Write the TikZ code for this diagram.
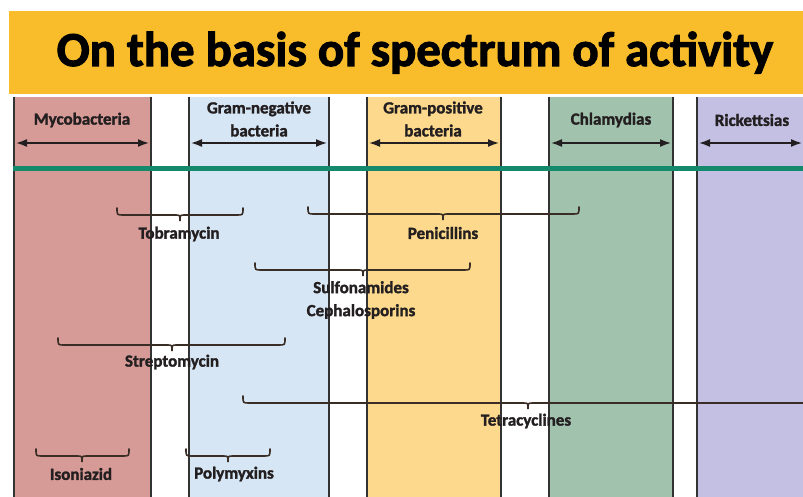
\documentclass[tikz,border=0pt]{standalone}
\usepackage{fontspec}
\setmainfont{Carlito}
\newfontfamily\heavyfont{Carlito Bold}[FakeBold=1.6]
\newfontfamily\titlefont{Carlito Bold}[FakeBold=2.2]
\usetikzlibrary{arrows.meta}
\definecolor{banner}{HTML}{F9BD2B}
\definecolor{mycoc}{HTML}{D79B97}
\definecolor{gnegc}{HTML}{D6E6F4}
\definecolor{gposc}{HTML}{FCD98C}
\definecolor{chlac}{HTML}{A1C3AE}
\definecolor{rickc}{HTML}{C3C0E4}
\definecolor{greenline}{HTML}{14896B}
\definecolor{inkc}{HTML}{231F20}
\definecolor{borderc}{HTML}{333333}
\newcommand\mybrace[4]{%
  \draw[bracestyle] (#1,#4-7) .. controls (#1,#4) .. (#1+6,#4) -- (#2-5,#4)
    .. controls (#2,#4) .. (#2,#4+6) .. controls (#2,#4) .. (#2+5,#4) -- (#3-6,#4)
    .. controls (#3,#4) .. (#3,#4-7);}
\begin{document}
\begin{tikzpicture}[x=1pt,y=-1pt,
  colborder/.style={draw=borderc,line width=1.4pt},
  lbl/.style={text=inkc,font=\fontsize{17}{23}\selectfont\heavyfont,align=center,inner sep=0pt},
  spanarrow/.style={draw=inkc,line width=1.6pt,{Latex[length=11pt,width=8pt]}-{Latex[length=11pt,width=8pt]}},
  bracestyle/.style={draw=inkc!85!brown,line width=1.6pt,line cap=round}]
\useasboundingbox (0,0) rectangle (803,497);
\fill[white] (0,0) rectangle (803,497);
% banner
\fill[banner] (9,11) rectangle (803,94);
\node[text=black,font=\fontsize{48.8}{52}\selectfont\titlefont,inner sep=0pt,anchor=base] (title) at (415,66) {On the basis of spectrum of activity};
% columns
\fill[mycoc] (14,97) rectangle (151,497);
\fill[gnegc] (189,97) rectangle (329,497);
\fill[gposc] (367,97) rectangle (501,497);
\fill[chlac] (549,97) rectangle (673,497);
\fill[rickc] (697,97) rectangle (803,497);
\foreach \xx in {14,151,189,329,367,501,549,673,697}
  \draw[colborder] (\xx,97) -- (\xx,497);
% column labels
\node[lbl] (myco) at (82,120) {Mycobacteria};
\node[lbl] (gneg) at (259,119) {Gram-negative\\bacteria};
\node[lbl] (gpos) at (433,119) {Gram-positive\\bacteria};
\node[lbl] (chla) at (611,120) {Chlamydias};
\node[lbl] (rick) at (752,120) {Rickettsias};
% span arrows
\coordinate (m1) at (16,143); \coordinate (m2) at (149,143);
\coordinate (n1) at (191,143); \coordinate (n2) at (327,143);
\coordinate (p1) at (369,143); \coordinate (p2) at (499,143);
\coordinate (c1) at (551,143); \coordinate (c2) at (671,143);
\coordinate (r1) at (699,143); \coordinate (r2) at (802,143);
\draw[spanarrow] (m1) -- (m2);
\draw[spanarrow] (n1) -- (n2);
\draw[spanarrow] (p1) -- (p2);
\draw[spanarrow] (c1) -- (c2);
\draw[spanarrow] (r1) -- (r2);
% green line
\draw[greenline,line width=5pt] (13,169) -- (803,169);
% braces
\mybrace{117}{180}{243}{215}
\node[lbl] (tobra) at (179,234) {Tobramycin};
\mybrace{308}{443}{579}{214}
\node[lbl] (peni) at (443,233) {Penicillins};
\mybrace{255}{363}{470}{270}
\node[lbl] (sulfa) at (361,300) {Sulfonamides\\Cephalosporins};
\mybrace{58}{172}{285}{345}
\node[lbl] (strep) at (172,362) {Streptomycin};
\draw[bracestyle] (243,396) .. controls (243,403) .. (249,403) -- (523,403)
  .. controls (528,403) .. (528,409) .. controls (528,403) .. (533,403) -- (803,403);
\node[lbl] (tetra) at (526,421) {Tetracyclines};
\mybrace{36}{82}{129}{456}
\node[lbl] (iso) at (81,474) {Isoniazid};
\mybrace{186}{228}{270}{456}
\node[lbl] (poly) at (234,474) {Polymyxins};
\end{tikzpicture}
\end{document}
